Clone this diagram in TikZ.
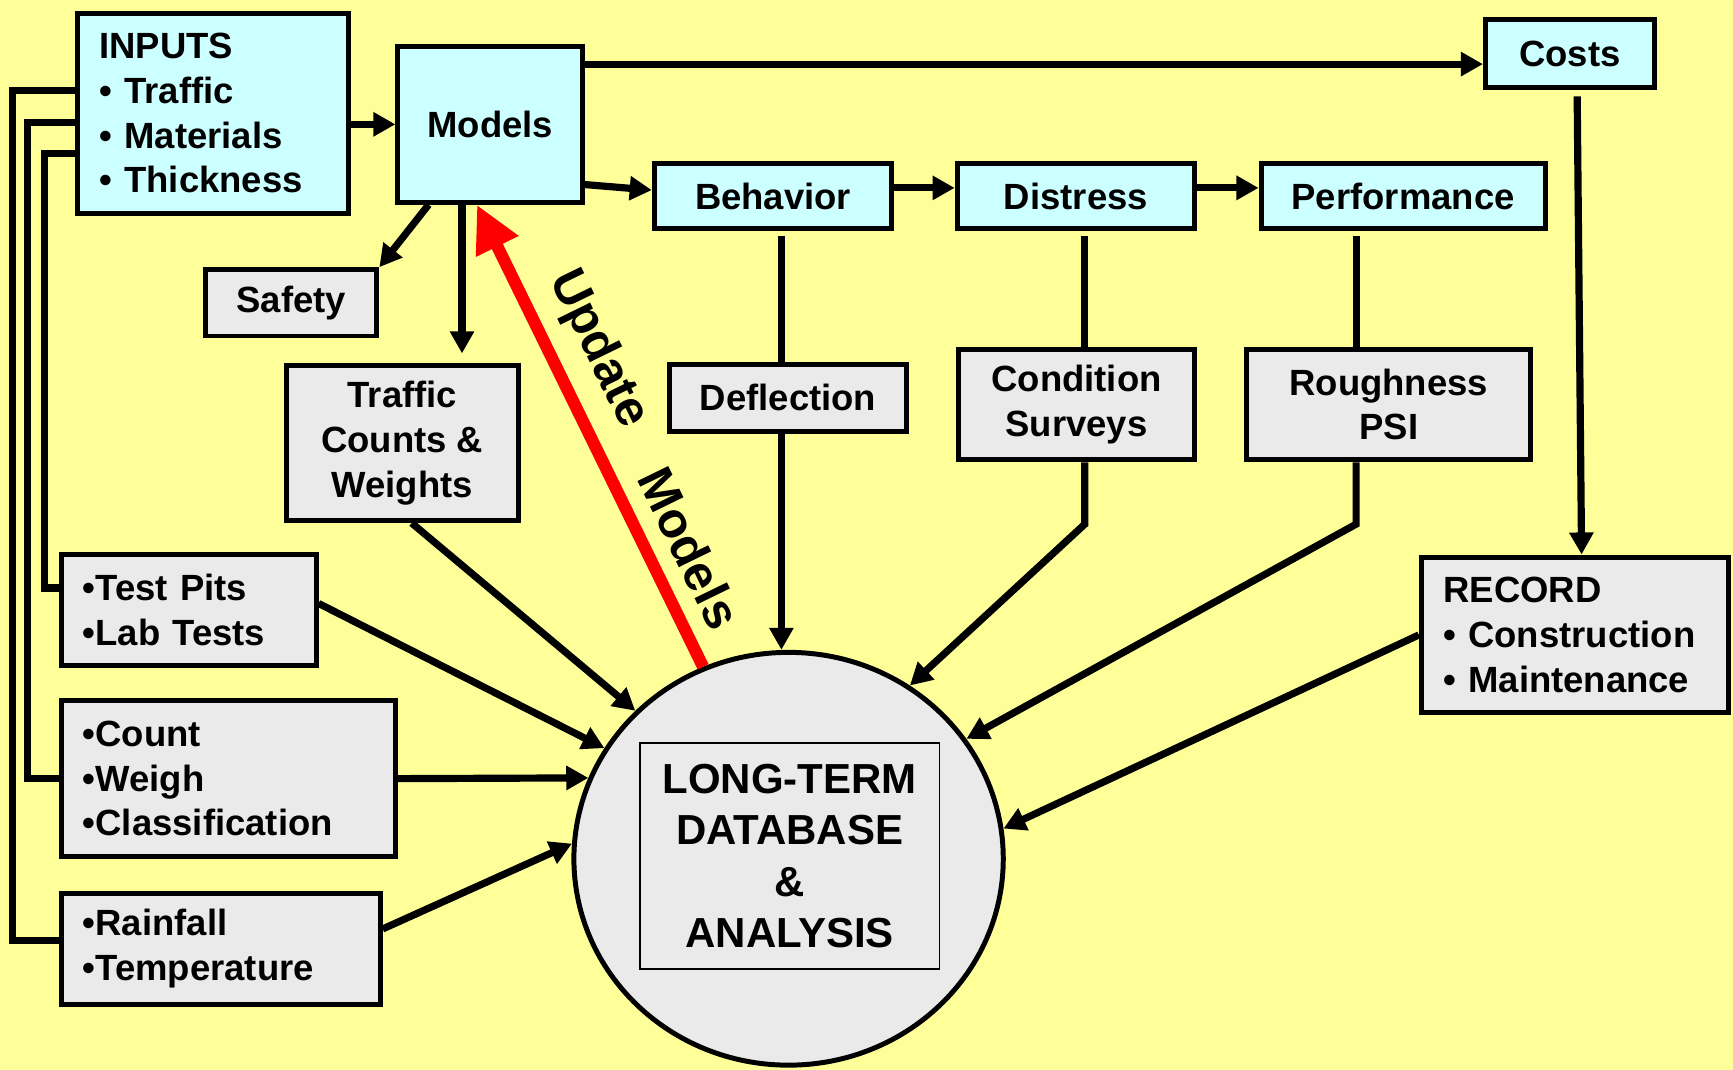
\documentclass[tikz,border=0pt]{standalone}
\usepackage{fontspec}
\setmainfont{Liberation Sans}
\usetikzlibrary{calc,arrows.meta,shapes.geometric}
\definecolor{bgyel}{RGB}{255,255,153}
\definecolor{cyanbox}{RGB}{204,255,255}
\definecolor{greybox}{RGB}{234,234,234}
\begin{document}
\begin{tikzpicture}[x=1pt,y=-1pt,
  every node/.style={font=\fontsize{33}{40.5}\selectfont\bfseries},
  bx/.style={draw=black,line width=4.5pt,inner sep=0pt,align=center},
  cb/.style={bx,fill=cyanbox},
  gb/.style={bx,fill=greybox},
  conn/.style={line width=6.5pt,draw=black},
  arr/.style={conn,-{Triangle[length=20pt,width=21pt]}},
  redarr/.style={line width=11pt,draw=red,-{Triangle[length=42pt,width=40pt]}},
  rotlbl/.style={font=\fontsize{45}{50}\selectfont\bfseries,rotate=-64}
  ]
\fill[bgyel] (0,0) rectangle (1568,968);
\useasboundingbox (0,0) rectangle (1568,968);

% top boxes
\node[cb,text width=205pt,inner xsep=20pt,minimum height=181pt,align=left] (inputs) at (192.5,102.5)
  {INPUTS\\• Traffic\\• Materials\\• Thickness};
\node[cb,minimum width=167pt,minimum height=141pt] (models) at (443.5,112.5) {Models};
\node[cb,minimum width=153pt,minimum height=61pt] (costs) at (1420.5,48.5) {Costs};
\node[cb,minimum width=215pt,minimum height=59pt] (behav) at (699.5,177.5) {Behavior};
\node[cb,minimum width=215pt,minimum height=59pt] (distress) at (973.5,177.5) {Distress};
\node[cb,minimum width=257pt,minimum height=59pt] (perf) at (1269.5,177.5) {Performance};

% grey boxes
\node[gb,minimum width=155pt,minimum height=60pt] (safety) at (263.5,274) {Safety};
\node[gb,minimum width=210pt,minimum height=140pt] (tcw) at (364,401) {Traffic\\Counts \&\\Weights};
\node[gb,minimum width=214pt,minimum height=60pt] (defl) at (713,360) {Deflection};
\node[gb,minimum width=214pt,minimum height=100pt] (cond) at (974,366) {Condition\\Surveys};
\node[gb,minimum width=257pt,minimum height=100pt] (rough) at (1256.5,366) {Roughness\\PSI};
\node[gb,text width=192pt,inner xsep=19pt,minimum height=100pt,align=left] (pits) at (171,552)
  {•Test Pits\\•Lab Tests};
\node[gb,text width=264pt,inner xsep=19pt,minimum height=141pt,align=left] (count) at (207,704.5)
  {•Count\\•Weigh\\•Classification};
\node[gb,text width=250pt,inner xsep=19pt,minimum height=101pt,align=left] (rain) at (200,858.5)
  {•Rainfall\\•Temperature};
\node[gb,text width=238pt,inner xsep=20pt,minimum height=141pt,align=left] (record) at (1425,574.5)
  {RECORD\\• Construction\\• Maintenance};

% database
\node[draw=black,line width=4.5pt,fill=greybox,ellipse,inner sep=0pt,
      minimum width=388.5pt,minimum height=373.5pt] (db) at (713.5,777) {};
\node[draw=black,line width=1.5pt,inner sep=0pt,align=center,
      minimum width=271pt,minimum height=205pt,
      font=\fontsize{38}{46.3}\selectfont\bfseries] (dbtext) at (714.5,774.5)
  {LONG-TERM\\DATABASE\\\&\\ANALYSIS};

% feedback lines on the left
\draw[conn] (inputs.west |- 0,82) -| (11,851) -- (rain.west |- 0,851);
\draw[conn] (inputs.west |- 0,111) -| (25,704.5) -- (count.west);
\draw[conn] (inputs.west |- 0,139) -| (40,532) -- (pits.west |- 0,532);

% top flow
\draw[arr] (inputs.east |- models.center) -- (models.west);
\draw[arr] (models.east |- 0,58) -- (costs.west |- 0,58);
\draw[arr] (models.east |- 0,167) -- (behav.west |- 0,172);
\draw[arr] (behav.east |- 0,170) -- (distress.west |- 0,170);
\draw[arr] (distress.east |- 0,170) -- (perf.west |- 0,170);
\draw[arr] ($(costs.south)+(6.5,6)$) -- ($(record.north)+(6,0)$);
\draw[arr] ($(models.south west)+(30,0)$) -- (safety.north east);
\draw[arr] ($(models.south)+(-25.5,0)$) -- ($(tcw.north)+(54,-9)$);

% vertical links
\draw[conn] ($(behav.south)+(7.5,4.5)$) -- ($(defl.north)+(-6,0)$);
\draw[arr] ($(defl.south)+(-6,0)$) -- ($(db.north)+(-6.5,0)$);
\draw[conn] ($(distress.south)+(8,4.5)$) -- ($(cond.north)+(7.5,0)$);
\draw[arr] ($(cond.south)+(7.5,0)$) -- ++(0,56) -- (db.55);
\draw[conn] ($(perf.south)+(-42.5,4.5)$) -- ($(rough.north)+(-29.5,0)$);
\draw[arr] ($(rough.south)+(-29.5,0)$) -- ++(0,56) -- (db.34);
\draw[arr] (record.west) -- (db.8.5);

% inputs into database
\draw[arr] ($(tcw.south)+(8.5,0)$) -- (db.136);
\draw[arr] ($(pits.east)+(0,-6)$) -- (db.149);
\draw[arr] (count.east) -- (db.158);
\draw[arr] ($(rain.east)+(0,-18)$) -- (db.176);

% update arrow
\draw[redarr] (db.114) -- ($(models.south)+(-12,0)$);
\node[rotlbl] (upd) at (541,316) {Update};
\node[rotlbl] (mdl) at (624,496) {Models};
\end{tikzpicture}
\end{document}
